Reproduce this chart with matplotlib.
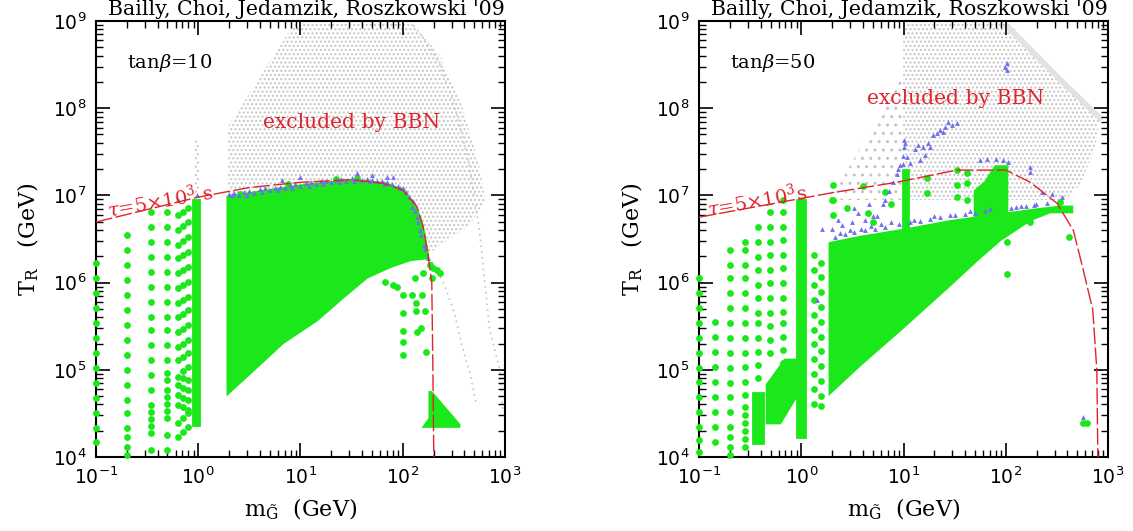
"""Gravitino mass vs reheating temperature scan, tan(beta)=10 and 50 panels."""

import matplotlib
matplotlib.use("Agg")
import matplotlib.pyplot as plt
import numpy as np
from matplotlib.ticker import FuncFormatter, LogLocator

plt.rcParams["font.family"] = ["DejaVu Serif"]
plt.rcParams["mathtext.fontset"] = "dejavuserif"

GREEN = "#1ae81a"
BLUE = "#6f6ff0"
RED = "#e0242c"
GRAY = "#c4c4c4"

# ---------------------------------------------------------------- tanb = 10
# all values are log10(m_gravitino / GeV), log10(T_R / GeV)
l_red_logm = [-1.0, 0.0, 0.5, 1.0, 1.5, 1.8, 2.0, 2.14, 2.2, 2.245, 2.284, 2.294, 2.304]
l_red_logT = [6.695, 6.98, 7.09, 7.15, 7.18, 7.14, 7.06, 6.87, 6.64, 6.34, 6.0, 5.1, 4.0]

l_gray_logm = [0.29, 0.955, 2.07, 2.363, 2.578, 2.734, 2.812, 2.656, 2.363, 2.245,
               2.118, 1.97, 0.29]
l_gray_logT = [7.784, 9.0, 9.0, 8.61, 8.04, 7.41, 6.95, 6.66, 6.43, 6.32,
               6.89, 7.06, 6.98]
l_graycol_logm = [-0.03, 0.005, 0.005, -0.03]
l_graycol_logT = [7.0, 7.0, 7.64, 7.64]
l_arc1_logm = [2.07, 2.24, 2.363, 2.47, 2.56, 2.65, 2.75, 2.85, 2.95, 2.978]
l_arc1_logT = [9.0, 8.75, 8.5, 8.15, 7.8, 7.35, 6.6, 5.46, 5.0, 4.54]
l_arc2_logm = [2.284, 2.41, 2.51, 2.578, 2.66, 2.72]
l_arc2_logT = [6.24, 5.97, 5.63, 5.28, 4.95, 4.6]

l_wedge_logm = [0.29, 0.6, 1.0, 1.48, 1.82, 2.0, 2.12, 2.19, 2.245, 2.245,
                2.216, 2.07, 1.874, 1.649, 1.414, 1.16, 0.828, 0.505, 0.29]
l_wedge_logT = [6.98, 7.04, 7.11, 7.17, 7.14, 7.06, 6.89, 6.66, 6.32, 6.28,
                6.28, 6.26, 6.18, 6.06, 5.83, 5.57, 5.31, 4.96, 4.73]
l_tri_logm = [2.21, 2.265, 2.265, 2.28, 2.55, 2.55]
l_tri_logT = [4.35, 4.44, 4.74, 4.74, 4.37, 4.35]
l_bar_logm = [-0.05, 0.01, 0.01, -0.05]
l_bar_logT = [4.37, 4.37, 6.95, 6.95]

l_colA_logT = [6.225, 6.05, 5.88, 5.71, 5.54, 5.36, 5.19, 5.02, 4.85, 4.68, 4.50, 4.33, 4.17]
l_colB_logT = [6.546, 6.374, 6.202, 6.03, 5.858, 5.686, 5.514, 5.342, 5.17, 4.998,
               4.826, 4.654, 4.505, 4.333, 4.229, 4.115, 4.02]
l_colC_logT = [6.81, 6.638, 6.466, 6.294, 6.122, 5.95, 5.778, 5.606, 5.456, 5.284,
               5.112, 4.94, 4.768, 4.596, 4.516, 4.436, 4.356, 4.275, 4.08]
l_colD_logT = [6.81, 6.638, 6.466, 6.294, 6.122, 5.95, 5.778, 5.606, 5.456, 5.284,
               5.112, 4.963, 4.883, 4.768, 4.688, 4.608, 4.528, 4.447, 4.252, 4.08]
l_colE_logT = [6.775, 6.603, 6.431, 6.282, 6.110, 5.938, 5.766, 5.606, 5.433, 5.262,
               5.112, 4.917, 4.826, 4.711, 4.596, 4.390, 4.229]
l_colF_logT = [6.856, 6.695, 6.523, 6.351, 6.179, 6.007, 5.835, 5.686, 5.514, 5.342,
               5.193, 5.032, 4.883, 4.768, 4.654, 4.539, 4.505, 4.344]
l_colG_logT = [6.815, 6.65, 6.48, 6.32, 6.145, 5.97, 5.80, 5.645, 5.47, 5.30, 5.15,
               4.99, 4.90, 4.79, 4.68, 4.57, 4.45, 4.29]
l_cols_logm = {"A": -1.0, "B": -0.70, "C": -0.465, "D": -0.309,
               "E": -0.198, "F": -0.10, "G": -0.15}

l_dots_logm = [2.333, 2.363, 2.284, 2.196, 2.118, 1.942, 2.001, 2.089, 2.187, 2.001,
               2.128, 2.216, 2.128, 2.001, 2.138, 2.177, 2.001, 2.001, 2.226, 1.825,
               1.903, 2.265, 2.3, 0.41, 0.88, 1.35, 1.55]
l_dots_logT = [6.144, 6.11, 6.053, 6.11, 6.053, 5.95, 5.858, 5.858, 5.858, 5.651,
               5.674, 5.674, 5.766, 5.445, 5.433, 5.479, 5.319, 5.17, 5.204, 6.007,
               5.972, 6.2, 6.17, 7.02, 7.13, 7.19, 7.2]

l_blue_logm = [-0.013, -0.198, 0.818, 0.994, 1.551, 1.698, 1.845, 1.903,
               2.03, 2.06, 2.089, 2.10, 2.12, 2.138, 2.15, 2.167, 2.18, 2.206,
               2.22, 2.245,
               0.30, 0.35, 0.40, 0.45, 0.50, 0.55, 0.60, 0.65, 0.70, 0.75, 0.80,
               0.85, 0.90, 0.95, 1.00, 1.05, 1.10, 1.15, 1.20, 1.25, 1.30, 1.35,
               1.40, 1.45, 1.50, 1.55, 1.60, 1.65, 1.70, 1.75, 1.80, 1.85, 1.90,
               1.95, 2.00, 0.33, 0.48, 0.62, 0.78, 0.92, 1.08, 1.22, 1.38, 1.52,
               1.68, 1.82, 1.97]
l_blue_logT = [7.005, 6.947, 7.177, 7.211, 7.257, 7.234, 7.211, 7.211,
               7.04, 6.98, 6.867, 6.93, 6.82, 6.752, 6.70, 6.603, 6.55, 6.43,
               6.38, 6.282,
               7.02, 7.03, 7.01, 7.04, 7.05, 7.03, 7.07, 7.08, 7.06, 7.09, 7.10,
               7.08, 7.12, 7.13, 7.11, 7.14, 7.15, 7.13, 7.16, 7.17, 7.15, 7.18,
               7.19, 7.17, 7.20, 7.19, 7.18, 7.19, 7.18, 7.17, 7.16, 7.15, 7.13,
               7.11, 7.09, 7.00, 7.01, 7.04, 7.06, 7.09, 7.11, 7.13, 7.15, 7.16,
               7.16, 7.13, 7.08]

# ---------------------------------------------------------------- tanb = 50
r_red_logm = [-1.0, 0.3, 0.93, 1.52, 2.0, 2.24, 2.5, 2.66, 2.75, 2.85, 2.89, 2.9]
r_red_logT = [6.75, 7.03, 7.15, 7.29, 7.29, 7.15, 6.91, 6.6, 6.18, 5.69, 5.0, 4.0]

r_gray_logm = [0.994, 2.011, 2.92, 2.871, 2.724, 2.578, 0.994]
r_gray_logT = [9.0, 9.0, 7.888, 7.521, 7.119, 6.947, 6.947]
r_graylo_logm = [0.28, 0.994, 0.994]
r_graylo_logT = [6.947, 8.381, 6.947]
r_band_logm = [2.011, 2.3, 2.6, 2.92]
r_band_logT = [8.94, 8.6, 8.25, 7.888]

r_wedge_logm = [0.28, 0.574, 0.994, 1.454, 1.942, 2.333, 2.529, 2.646, 2.646,
                2.431, 2.236, 1.942, 1.718, 1.454, 0.965, 0.574, 0.28]
r_wedge_logT = [6.45, 6.52, 6.60, 6.70, 6.78, 6.84, 6.867, 6.867, 6.81,
                6.81, 6.718, 6.489, 6.259, 5.972, 5.456, 5.055, 4.734]
r_bar10_logm = [0.99, 1.04, 1.04, 0.99]
r_bar10_logT = [6.5, 6.5, 7.29, 7.29]
r_block100_logm = [1.70, 1.70, 1.80, 1.90, 2.011, 2.011]
r_block100_logT = [6.7, 7.05, 7.15, 7.33, 7.33, 6.7]
r_bar1_logm = [-0.04, 0.04, 0.04, -0.04]
r_bar1_logT = [4.23, 4.23, 6.95, 6.95]
r_barA_logm = [-0.47, -0.37, -0.37, -0.47]
r_barA_logT = [4.16, 4.16, 4.73, 4.73]
r_blockB_logm = [-0.335, -0.335, -0.159, -0.042, -0.042, -0.208]
r_blockB_logT = [4.39, 4.826, 5.112, 5.112, 4.711, 4.39]

r_c1_logT = [6.053, 5.881, 5.709, 5.537, 5.365, 5.193, 5.021, 4.860, 4.688, 4.516,
             4.344, 4.195, 4.057]
r_c2_logT = [5.548, 5.376, 5.204, 5.032, 4.860, 4.688, 4.516, 4.344, 4.172]
r_c3_logT = [6.374, 6.202, 6.053, 5.881, 5.709, 5.537, 5.365, 5.193, 5.021, 4.849,
             4.688, 4.516, 4.344, 4.229, 4.115, 4.023]
r_c4_logT = [6.466, 6.374, 6.202, 6.053, 5.881, 5.709, 5.537, 5.365, 5.193, 5.032,
             4.860, 4.711, 4.573, 4.482, 4.390, 4.298, 4.206, 4.115]
r_c5_logT = [6.638, 6.466, 6.294, 6.144, 5.972, 5.823, 5.651, 5.537, 5.365, 5.204,
             5.055, 4.906]
r_c6_logT = [6.810, 6.638, 6.466, 6.317, 6.144, 5.995, 5.823, 5.651, 5.50, 5.34, 5.19]
r_c7_logT = [6.947, 6.810, 6.638, 6.489, 6.317, 6.167, 5.995, 5.823, 5.663, 5.537,
             5.376, 5.227, 5.078]
r_c8_logT = [6.317, 6.144, 5.972, 5.800, 5.63, 5.46, 5.29, 5.12, 4.95, 4.78, 4.61]
r_c9_logT = [7.12, 6.95, 6.78]
r_c10_logT = [6.23, 6.06, 5.89, 5.72, 5.55, 5.38, 5.21, 5.04, 4.87, 4.70, 4.58]
r_cols_logm = {"1": -1.0, "2": -0.844, "3": -0.70, "4": -0.55, "5": -0.42,
               "6": -0.306, "7": -0.18, "8": 0.12, "9": 0.31, "10": 0.19}

r_dots_logm = [0.60, 0.818, 0.88, 0.65, 0.45, 0.30, 0.70, 1.23, 1.23, 1.52, 1.52,
               1.52, 1.62, 1.62, 1.62, 2.236, 2.529, 2.578, 2.62, 2.011, 2.011,
               2.75, 2.79]
r_dots_logT = [7.11, 7.04, 6.90, 6.80, 6.85, 6.95, 6.70, 7.20, 7.03, 7.29, 7.12,
               6.98, 7.26, 7.14, 6.95, 6.70, 6.92, 6.84, 6.52, 6.47, 6.10,
               4.39, 4.39]

r_blue_logm = [1.014, 1.033, 1.063, 1.111, 1.141, 1.19, 1.238, 1.287, 1.326, 1.356,
               1.405, 1.434, 1.473, 1.522, 1.16, 1.209, 1.258, 1.385, 2.011, 1.99,
               2.011, 1.75, 1.82, 1.90, 1.97, 2.02, 2.24, 2.24, 2.35, 2.45, 2.55,
               0.33, 0.43, 0.52, 0.62, 0.72, 0.82, 0.96, 1.06, 1.16, 1.26, 1.36,
               1.50, 1.60, 1.70, 1.80, 2.10, 2.20, 2.30, 2.40, 0.20, 0.36, 0.55,
               0.70, 0.15, 0.80, 2.75, 0.38, 0.48, 0.58, 0.68, 0.78, 0.88, 1.10,
               1.30, 1.45, 1.65, 1.85, 2.05, 2.15, 2.28,
               0.82, 0.86, 0.90, 0.94, 0.97, 0.99, 0.95, 1.00, 1.00, 0.99,
               0.30, 0.40, 0.50, 0.62, 0.74, 0.52, 0.66]
r_blue_logT = [7.601, 7.44, 7.372, 7.532, 7.578, 7.555, 7.601, 7.693, 7.716, 7.75,
               7.784, 7.842, 7.807, 7.83, 7.406, 7.463, 7.555, 7.727, 8.518, 8.47,
               8.438, 7.40, 7.42, 7.42, 7.40, 7.38, 7.33, 7.27, 7.04, 7.02, 6.98,
               6.52, 6.56, 6.58, 6.60, 6.62, 6.64, 6.67, 6.69, 6.71, 6.73, 6.75,
               6.77, 6.79, 6.80, 6.82, 6.87, 6.88, 6.90, 6.91, 6.62, 6.72, 6.80,
               6.76, 5.8, 6.9, 4.46, 6.57, 6.60, 6.62, 6.65, 6.67, 6.70, 6.72,
               6.76, 6.78, 6.82, 6.84, 6.86, 6.88, 6.89,
               6.95, 7.05, 7.15, 7.25, 7.35, 7.45, 7.30, 7.55, 7.64, 7.36,
               6.62, 6.66, 6.70, 6.72, 6.76, 6.86, 6.90]


def _fill(ax, logm, logT, color, z):
    ax.fill(10 ** np.array(logm), 10 ** np.array(logT), color=color,
            lw=2.0, zorder=z)


def _hatch(ax, logm, logT, z=1, hatch="...."):
    ax.fill(10 ** np.array(logm), 10 ** np.array(logT), facecolor="none",
            edgecolor=GRAY, hatch=hatch, lw=0, zorder=z)


def _dots(ax, logm, logT, z=4):
    ax.scatter(10 ** np.array(logm), 10 ** np.array(logT), s=24, color=GREEN,
               lw=0, zorder=z, clip_on=False)


def _blue(ax, logm, logT):
    ax.scatter(10 ** np.array(logm), 10 ** np.array(logT), s=12, marker="^",
               color=BLUE, lw=0, zorder=5, clip_on=False)


def _style(ax):
    ax.set_xscale("log")
    ax.set_yscale("log")
    ax.set_xlim(0.1, 1000)
    ax.set_ylim(1e4, 1e9)
    fmt = FuncFormatter(lambda v, _: r"$\mathsf{10^{%d}}$" % round(np.log10(v)))
    ax.xaxis.set_major_formatter(fmt)
    ax.yaxis.set_major_formatter(fmt)
    ax.xaxis.set_major_locator(LogLocator(base=10, numticks=10))
    ax.yaxis.set_major_locator(LogLocator(base=10, numticks=10))
    ax.tick_params(which="both", direction="in", top=True, right=True,
                   labelsize=13.5)
    ax.tick_params(which="major", length=10, width=1.2, pad=7)
    ax.tick_params(which="minor", length=5, width=1.0)
    for sp in ax.spines.values():
        sp.set_linewidth(1.5)
    ax.set_xlabel(r"m$_{\tilde{\rm G}}$  (GeV)", fontsize=16, labelpad=6)
    ax.set_ylabel(r"T$_{\rm R}$   (GeV)", fontsize=16, labelpad=8)
    ax.text(1.0, 1.004, "Bailly, Choi, Jedamzik, Roszkowski '09",
            transform=ax.transAxes, ha="right", va="bottom", fontsize=14.8)


fig = plt.figure(figsize=(11.33, 5.31), dpi=100)
axL = fig.add_axes([0.0847, 0.1394, 0.361, 0.8211])
axR = fig.add_axes([0.617, 0.1394, 0.361, 0.8211])

# left panel
_hatch(axL, l_gray_logm, l_gray_logT)
_hatch(axL, l_graycol_logm, l_graycol_logT)
for am, aT in [(l_arc1_logm, l_arc1_logT), (l_arc2_logm, l_arc2_logT)]:
    axL.plot(10 ** np.array(am), 10 ** np.array(aT), color=GRAY, lw=1.2,
             ls=(0, (1, 2.5)), zorder=1)
_fill(axL, l_wedge_logm, l_wedge_logT, GREEN, 3)
_fill(axL, l_tri_logm, l_tri_logT, GREEN, 3)
_fill(axL, l_bar_logm, l_bar_logT, GREEN, 3)
for key, vals in [("A", l_colA_logT), ("B", l_colB_logT), ("C", l_colC_logT),
                  ("D", l_colD_logT), ("E", l_colE_logT), ("F", l_colF_logT),
                  ("G", l_colG_logT)]:
    _dots(axL, [l_cols_logm[key]] * len(vals), vals)
_dots(axL, l_dots_logm, l_dots_logT)
_blue(axL, l_blue_logm, l_blue_logT)
axL.plot(10 ** np.array(l_red_logm), 10 ** np.array(l_red_logT), color=RED,
         lw=1.0, dashes=(12, 2.5), zorder=6)

# right panel
_hatch(axR, r_gray_logm, r_gray_logT)
_hatch(axR, r_graylo_logm, r_graylo_logT, hatch="..")
axR.plot(10 ** np.array(r_band_logm), 10 ** np.array(r_band_logT), color="#e2e2e2",
         lw=4, zorder=1)
_fill(axR, r_wedge_logm, r_wedge_logT, GREEN, 3)
for pm, pT in [(r_bar10_logm, r_bar10_logT), (r_block100_logm, r_block100_logT),
               (r_bar1_logm, r_bar1_logT), (r_barA_logm, r_barA_logT),
               (r_blockB_logm, r_blockB_logT)]:
    _fill(axR, pm, pT, GREEN, 3)
for key, vals in [("1", r_c1_logT), ("2", r_c2_logT), ("3", r_c3_logT),
                  ("4", r_c4_logT), ("5", r_c5_logT), ("6", r_c6_logT),
                  ("7", r_c7_logT), ("8", r_c8_logT), ("9", r_c9_logT),
                  ("10", r_c10_logT)]:
    _dots(axR, [r_cols_logm[key]] * len(vals), vals)
_dots(axR, r_dots_logm, r_dots_logT)
_blue(axR, r_blue_logm, r_blue_logT)
axR.plot(10 ** np.array(r_red_logm), 10 ** np.array(r_red_logT), color=RED,
         lw=1.0, dashes=(12, 2.5), zorder=6)

for ax, tb, exc_pos, tau_pos, tau_txt in [
        (axL, "10", (0.408, 0.766), (0.156, 0.59), r"$\tau$=5$\times$10$^3$ s"),
        (axR, "50", (0.411, 0.823), (0.142, 0.59), r"$\tau$=5$\times$10$^3$s")]:
    _style(ax)
    ax.text(0.076, 0.904, r"tan$\beta$=" + tb, transform=ax.transAxes,
            fontsize=14, va="center", zorder=8)
    ax.text(exc_pos[0], exc_pos[1], "excluded by BBN", transform=ax.transAxes,
            fontsize=14.6, color=RED, va="center", zorder=8)
    ax.text(tau_pos[0], tau_pos[1], tau_txt, transform=ax.transAxes,
            fontsize=14, color=RED, ha="center", va="center", rotation=10,
            zorder=8)

fig.savefig("out.png", dpi=100)
